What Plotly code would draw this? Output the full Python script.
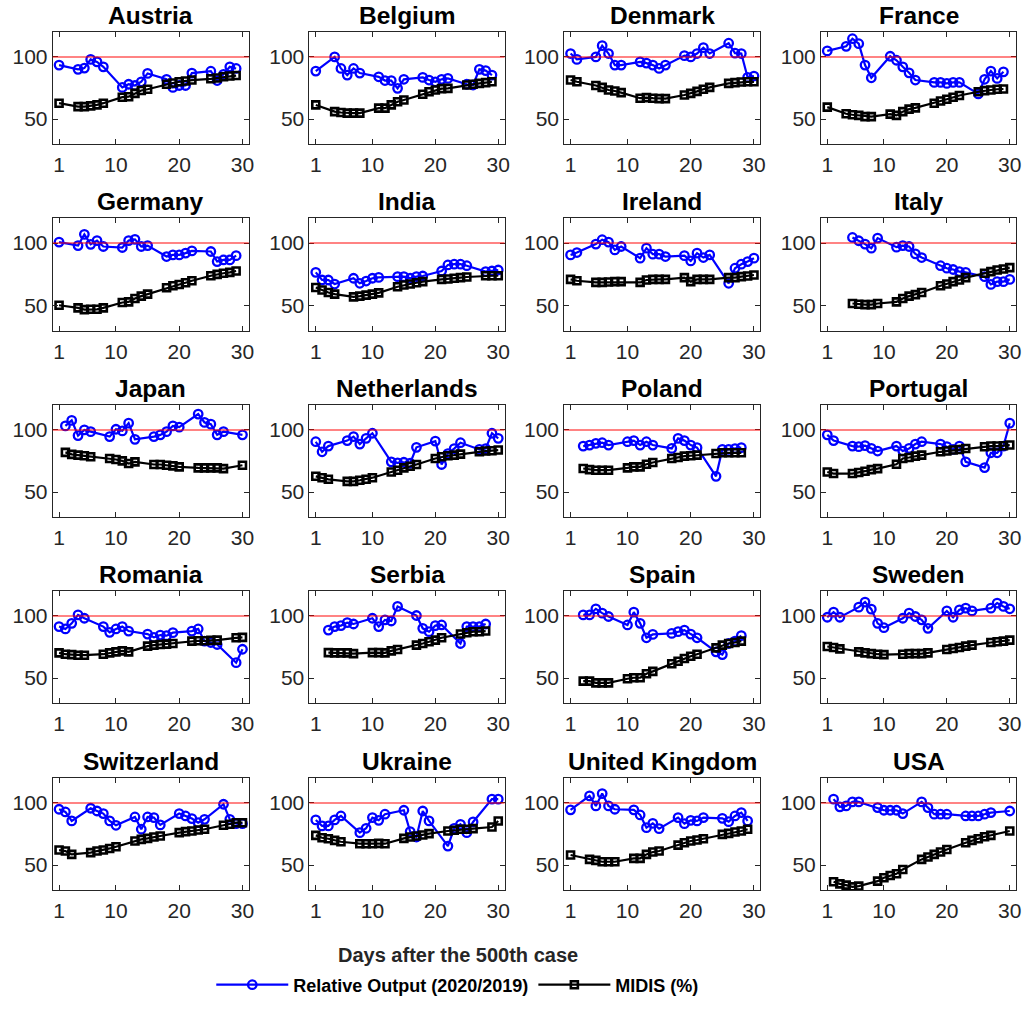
import plotly.graph_objects as go

# ---------------- data ----------------
COUNTRIES = ["Austria", "Belgium", "Denmark", "France",
             "Germany", "India", "Ireland", "Italy",
             "Japan", "Netherlands", "Poland", "Portugal",
             "Romania", "Serbia", "Spain", "Sweden",
             "Switzerland", "Ukraine", "United Kingdom", "USA"]

X_TICKS = [1, 10, 20, 30]
Y_TICKS = [50, 100]
X_RANGE = [0, 31]
Y_RANGE = [30, 120]
REF_LEVEL = 100

SERIES_OUTPUT = "Relative Output (2020/2019)"
SERIES_MIDIS = "MIDIS (%)"
X_LABEL = "Days after the 500th case"

AUSTRIA_DAYS = [1, 4, 5, 6, 7, 8, 11, 12, 13, 14, 15, 18, 19, 20, 21, 22, 25, 26, 27, 28, 29]
AUSTRIA_OUTPUT = [93.4, 90, 91, 98, 96, 92, 75.5, 78, 77, 80, 86.7, 82, 75.5, 77, 77, 87, 88.5, 81, 86, 92, 90.7]
AUSTRIA_MIDIS = [62.8, 60, 60, 60.6, 61.4, 62.8, 67.6, 68, 70.7, 73, 74, 78, 79, 80, 80.6, 81.4, 82.4, 83, 84, 84.6, 85]

BELGIUM_DAYS = [1, 4, 5, 6, 7, 8, 11, 12, 13, 14, 15, 18, 19, 20, 21, 22, 25, 26, 27, 28, 29]
BELGIUM_OUTPUT = [88.6, 100, 90.7, 85.4, 90.7, 87, 84, 81, 81, 74.7, 82, 83.5, 81.4, 80, 82, 82.7, 78, 77.4, 90, 89, 85.4]
BELGIUM_MIDIS = [61.4, 56, 55.3, 54.8, 54.8, 54.8, 58.8, 58.8, 61.4, 64, 65.4, 70, 72, 73.4, 74.5, 74.7, 77.4, 78, 78.7, 79.3, 80]

DENMARK_DAYS = [1, 2, 5, 6, 7, 8, 9, 12, 13, 14, 15, 16, 19, 20, 21, 22, 23, 26, 27, 28, 29, 30]
DENMARK_OUTPUT = [102.7, 98, 100, 109, 102.7, 93.4, 93.4, 96, 95, 93.4, 90.7, 93.4, 101, 100, 102.7, 107.4, 102.7, 111, 103, 102.7, 83.5, 84.6]
DENMARK_MIDIS = [81.4, 80, 77, 75.5, 73.4, 72.6, 71.3, 66.8, 67.3, 66.8, 66.5, 66.5, 69.4, 70.7, 72.3, 74, 75.5, 78.7, 79.3, 79.8, 80, 80]

FRANCE_DAYS = [1, 4, 5, 6, 7, 8, 11, 12, 13, 14, 15, 18, 19, 20, 21, 22, 25, 26, 27, 28, 29]
FRANCE_OUTPUT = [104.8, 108.5, 114.6, 110.6, 93.4, 83.2, 100.5, 97.3, 92, 87.2, 81.4, 79.5, 79.5, 78.7, 79.5, 79.5, 70.2, 82, 88.6, 82.7, 88]
FRANCE_MIDIS = [59.6, 54.3, 53.5, 53, 52, 52, 54, 53, 56, 58, 59, 62.8, 64.6, 66, 67.6, 69, 72, 72.9, 73.4, 74, 74.2]

GERMANY_DAYS = [1, 4, 5, 6, 7, 8, 11, 12, 13, 14, 15, 18, 19, 20, 21, 22, 25, 26, 27, 28, 29]
GERMANY_OUTPUT = [100.8, 98, 107, 99, 102, 97.3, 96.5, 102, 103, 97.3, 98, 89.3, 90.6, 90.6, 92, 93.8, 93.3, 85.3, 86.6, 86.6, 90]
GERMANY_MIDIS = [50.5, 48.4, 47, 47.3, 47.3, 48.4, 52.7, 53.2, 55.9, 57.8, 59.4, 64.4, 66, 67, 68.4, 70, 74, 75.1, 76, 76.7, 77.8]

INDIA_DAYS = [1, 2, 3, 4, 7, 8, 9, 10, 11, 14, 15, 16, 17, 18, 21, 22, 23, 24, 25, 28, 29, 30]
INDIA_OUTPUT = [76.7, 70.6, 70.6, 67.4, 72, 68, 69.8, 72, 72.7, 73.3, 73.3, 72, 73.3, 73.8, 77.8, 82.6, 83.2, 83.2, 82, 77.3, 77.8, 78.6]
INDIA_MIDIS = [64.7, 62.6, 60.7, 59.4, 57.2, 57.8, 58.6, 59.4, 60.4, 65.2, 66.6, 67.4, 68.4, 69.3, 71.1, 71.4, 72, 72.5, 73, 74, 74, 74]

IRELAND_DAYS = [1, 2, 5, 6, 7, 8, 9, 12, 13, 14, 15, 16, 19, 20, 21, 22, 23, 26, 27, 28, 29, 30]
IRELAND_OUTPUT = [90.6, 92.5, 99.2, 102.7, 100.8, 94.6, 97.3, 88, 96, 91.2, 91.2, 89.3, 90, 85.8, 92, 88.5, 90.6, 68, 80, 83.2, 85.3, 88]
IRELAND_MIDIS = [71.1, 70, 68.7, 68.7, 69, 69.3, 69.3, 68.7, 70.6, 71.1, 71.1, 71.1, 72.5, 69.3, 71.1, 71.1, 71.1, 72.5, 72.5, 73.3, 73.8, 74.6]

ITALY_DAYS = [5, 6, 7, 8, 9, 12, 13, 14, 15, 16, 19, 20, 21, 22, 23, 26, 27, 28, 29, 30]
ITALY_OUTPUT = [104.5, 101.9, 99.2, 96, 104, 96.8, 98, 97.3, 91.4, 88.5, 82, 80, 79, 77.3, 76.7, 73.3, 67.1, 69.3, 69.3, 71.1]
ITALY_MIDIS = [51.9, 51.3, 51, 51, 51.9, 53.2, 55.9, 57.8, 59, 60.7, 66, 67.4, 69.3, 70.6, 72.5, 76, 77.3, 78.6, 79.4, 80.5]

JAPAN_DAYS = [2, 3, 4, 5, 6, 9, 10, 11, 12, 13, 16, 17, 18, 19, 20, 23, 24, 25, 26, 27, 30]
JAPAN_OUTPUT = [103.2, 107.6, 95.4, 100, 98.6, 94.6, 100.5, 99.2, 105.4, 92.4, 94.6, 96, 98.6, 103.2, 102.2, 112.7, 106, 104.6, 96, 98.6, 96]
JAPAN_MIDIS = [81.9, 80.3, 79.7, 79.2, 78.4, 77, 76.2, 75.1, 73, 74.3, 72.2, 72.2, 71.6, 71.1, 70.3, 69.5, 69.5, 69.5, 69.5, 68.9, 71.6]

NETHERLANDS_DAYS = [1, 2, 3, 6, 7, 8, 9, 10, 13, 14, 15, 16, 17, 20, 21, 22, 23, 24, 27, 28, 29, 30]
NETHERLANDS_OUTPUT = [90.5, 82.4, 87, 91.4, 94.6, 88.6, 93.2, 97.3, 74.3, 73.5, 74, 73.2, 86, 91, 72.2, 81, 85, 89.7, 84.3, 85, 97.3, 93.2]
NETHERLANDS_MIDIS = [62.7, 61.6, 60.3, 58.6, 58.6, 59.5, 60.3, 61.6, 66.2, 67.6, 69.5, 70.8, 72.2, 77, 78.4, 79.2, 79.7, 80.5, 82.4, 83, 83.2, 83.8]

POLAND_DAYS = [3, 4, 5, 6, 7, 10, 11, 12, 13, 14, 17, 18, 19, 20, 21, 24, 25, 26, 27, 28]
POLAND_OUTPUT = [87, 87.8, 89.2, 89.7, 87.8, 90.5, 91.4, 87.8, 90.5, 87.8, 85.1, 93.2, 91.4, 87.8, 85.7, 62.7, 84.3, 84.3, 85, 85.8]
POLAND_MIDIS = [69, 68.1, 67.6, 67.6, 67.6, 69.5, 70.3, 70.3, 72.4, 73.8, 77, 77.8, 78.9, 79.2, 79.7, 81, 81.6, 81.6, 81.6, 81.6]

PORTUGAL_DAYS = [1, 2, 5, 6, 7, 8, 9, 12, 13, 14, 15, 16, 19, 20, 21, 22, 23, 26, 27, 28, 29, 30]
PORTUGAL_OUTPUT = [96, 91.4, 87, 86.5, 87.3, 85.1, 83, 87, 83, 85.1, 88.6, 90.5, 88.6, 86.5, 84.3, 87, 74.3, 69.7, 81.6, 81.6, 87, 105.4]
PORTUGAL_MIDIS = [66.2, 64.9, 64.9, 65.7, 66.8, 68.1, 68.9, 72.4, 77, 77.8, 78.9, 79.7, 82.4, 83, 83.8, 84.3, 85.1, 86.5, 87, 87, 87.3, 87.8]

ROMANIA_DAYS = [1, 2, 3, 4, 5, 8, 9, 10, 11, 12, 15, 16, 17, 18, 19, 22, 23, 24, 25, 26, 29, 30]
ROMANIA_OUTPUT = [91.4, 89.5, 94, 100.8, 98.1, 91.4, 86.8, 89.5, 91.4, 87.8, 85.4, 82.7, 84.6, 84.1, 86.5, 87.8, 89.5, 79.7, 78.6, 77, 62.4, 73.2]
ROMANIA_MIDIS = [70.3, 69.2, 68.9, 68.4, 68.4, 69.2, 70.3, 71.1, 71.9, 71.1, 75.7, 76.5, 77, 77.3, 77.8, 79.7, 80, 80, 80.3, 80.5, 82.4, 82.7]

SERBIA_DAYS = [3, 4, 5, 6, 7, 10, 11, 12, 13, 14, 17, 18, 19, 20, 21, 24, 25, 26, 27, 28]
SERBIA_OUTPUT = [88.6, 91.4, 92.2, 94.6, 93.5, 98.1, 91.4, 96.8, 95.9, 107.6, 100.3, 90, 87.3, 92.2, 92.7, 77.8, 91.4, 91.4, 91.4, 93.5]
SERBIA_MIDIS = [70.5, 70.3, 70.3, 70.3, 69.7, 70.5, 70.5, 70.3, 71.9, 73, 76.5, 77.8, 79.2, 80.5, 82.4, 85.4, 86.5, 87.3, 87.3, 87.8]

SPAIN_DAYS = [3, 4, 5, 6, 7, 10, 11, 12, 13, 14, 17, 18, 19, 20, 21, 24, 25, 26, 27, 28]
SPAIN_OUTPUT = [100.8, 100.8, 105.7, 102.2, 99.5, 92.7, 103, 94, 82.4, 85.1, 85.9, 87.3, 88.6, 85.4, 82.4, 71.1, 68.9, 77.8, 79.7, 84.1]
SPAIN_MIDIS = [47.6, 47.6, 46.2, 46.2, 46.2, 49.5, 50.3, 50.3, 53.5, 55.4, 61.6, 63.5, 65.7, 67.6, 69.2, 74.3, 76.5, 77.8, 78.6, 79.7]

SWEDEN_DAYS = [1, 2, 3, 6, 7, 8, 9, 10, 13, 14, 15, 16, 17, 20, 21, 22, 23, 24, 27, 28, 29, 30]
SWEDEN_OUTPUT = [98.9, 103, 98.9, 107, 111.1, 105.4, 94, 90.5, 98.1, 102.2, 99.5, 96.8, 90, 104, 98.9, 104.9, 106.2, 104, 106.2, 110.3, 107.6, 105.7]
SWEDEN_MIDIS = [75.4, 74.6, 73.5, 71.1, 70.3, 69.7, 69.2, 68.9, 69.2, 69.7, 69.7, 69.7, 70.3, 73, 73.8, 74.6, 75.7, 76.5, 78.6, 79.2, 79.7, 80.5]

SWITZERLAND_DAYS = [1, 2, 3, 6, 7, 8, 9, 10, 13, 14, 15, 16, 17, 20, 21, 22, 23, 24, 27, 28, 29, 30]
SWITZERLAND_OUTPUT = [94.9, 92.7, 85.5, 95.7, 93.5, 91.4, 85.5, 82, 88.7, 78.8, 88.7, 88.2, 82.3, 91.4, 89.5, 87.4, 84.1, 86.8, 98.9, 86.8, 83.3, 83.3]
SWITZERLAND_MIDIS = [62.1, 61.3, 58.6, 60, 61.3, 62.1, 63.4, 64.8, 69.4, 70.7, 71.5, 72.6, 73.4, 76.1, 76.9, 77.4, 78.2, 78.8, 82, 82.8, 84.1, 84.1]

UKRAINE_DAYS = [1, 2, 3, 4, 5, 8, 9, 10, 11, 12, 15, 16, 17, 18, 19, 22, 23, 24, 25, 26, 29, 30]
UKRAINE_OUTPUT = [86.3, 81.5, 81.5, 86.3, 89.5, 76.1, 79.6, 88.2, 86, 90.9, 94.1, 76.9, 72.6, 93.5, 85.5, 65.3, 79.6, 82.8, 76.1, 84.7, 103, 103]
UKRAINE_MIDIS = [73.9, 72, 71.2, 69.9, 68.8, 67.2, 67.2, 67.2, 67.5, 67.2, 71.5, 72.6, 73.4, 74.2, 75.3, 77.4, 78, 78.8, 78.8, 79.3, 80.6, 85.5]

UK_DAYS = [1, 4, 5, 6, 7, 8, 11, 12, 13, 14, 15, 18, 19, 20, 21, 22, 25, 26, 27, 28, 29]
UK_OUTPUT = [94.4, 105.6, 97.6, 107.5, 97.6, 94.9, 94.4, 90.3, 80.1, 83.6, 79.3, 88.2, 83.3, 86, 85.5, 88.2, 87.6, 84.9, 89.5, 92.2, 85.5]
UK_MIDIS = [58.1, 54.6, 53.8, 52.7, 52.7, 52.7, 55.4, 55.4, 58.6, 60.5, 61.3, 66.1, 68, 69.4, 70.2, 71.2, 74.7, 75.5, 76.6, 77.4, 78.8]

USA_DAYS = [2, 3, 4, 5, 6, 9, 10, 11, 12, 13, 16, 17, 18, 19, 20, 23, 24, 25, 26, 27, 30]
USA_OUTPUT = [103, 96.8, 97.6, 100.8, 100.8, 96.2, 94.1, 94.1, 94.1, 91.4, 100.8, 96.2, 90.9, 90.9, 90.9, 89.5, 89.5, 89.5, 90.9, 92.2, 93.5]
USA_MIDIS = [36.6, 34.9, 33.9, 32.5, 33.1, 37.1, 39.8, 41.7, 43, 46.5, 54.6, 56.5, 58.6, 60.5, 62.6, 68, 69.9, 71.2, 72.8, 73.9, 77.4]

PANELS = [
    (AUSTRIA_DAYS, AUSTRIA_OUTPUT, AUSTRIA_MIDIS),
    (BELGIUM_DAYS, BELGIUM_OUTPUT, BELGIUM_MIDIS),
    (DENMARK_DAYS, DENMARK_OUTPUT, DENMARK_MIDIS),
    (FRANCE_DAYS, FRANCE_OUTPUT, FRANCE_MIDIS),
    (GERMANY_DAYS, GERMANY_OUTPUT, GERMANY_MIDIS),
    (INDIA_DAYS, INDIA_OUTPUT, INDIA_MIDIS),
    (IRELAND_DAYS, IRELAND_OUTPUT, IRELAND_MIDIS),
    (ITALY_DAYS, ITALY_OUTPUT, ITALY_MIDIS),
    (JAPAN_DAYS, JAPAN_OUTPUT, JAPAN_MIDIS),
    (NETHERLANDS_DAYS, NETHERLANDS_OUTPUT, NETHERLANDS_MIDIS),
    (POLAND_DAYS, POLAND_OUTPUT, POLAND_MIDIS),
    (PORTUGAL_DAYS, PORTUGAL_OUTPUT, PORTUGAL_MIDIS),
    (ROMANIA_DAYS, ROMANIA_OUTPUT, ROMANIA_MIDIS),
    (SERBIA_DAYS, SERBIA_OUTPUT, SERBIA_MIDIS),
    (SPAIN_DAYS, SPAIN_OUTPUT, SPAIN_MIDIS),
    (SWEDEN_DAYS, SWEDEN_OUTPUT, SWEDEN_MIDIS),
    (SWITZERLAND_DAYS, SWITZERLAND_OUTPUT, SWITZERLAND_MIDIS),
    (UKRAINE_DAYS, UKRAINE_OUTPUT, UKRAINE_MIDIS),
    (UK_DAYS, UK_OUTPUT, UK_MIDIS),
    (USA_DAYS, USA_OUTPUT, USA_MIDIS),
]

# ---------------- layout geometry (page pixels) ----------------
W, H = 1029, 1009
COL_L = [53, 311, 567, 825]
COL_R = [250, 507, 764, 1021]
ROW_T = [32, 218, 405, 591, 778]
ROW_B = [144, 331, 517, 703, 890]


def px(x):
    return x / W


def py(y):
    return 1 - y / H


FONT = "Liberation Sans, Arial, Helvetica, sans-serif"
AX_COLOR = "#262626"
BLUE = "#0000ff"
BLACK = "#000000"
RED = "rgba(255,0,0,0.65)"

fig = go.Figure()
layout = dict(
    width=W, height=H,
    margin=dict(l=0, r=0, t=0, b=0),
    paper_bgcolor="white", plot_bgcolor="white",
    font=dict(family=FONT, color=AX_COLOR),
)
annotations = []
shapes = []

for i, (name, (days, out, midis)) in enumerate(zip(COUNTRIES, PANELS)):
    r, c = divmod(i, 4)
    k = i + 1
    xs = "" if k == 1 else str(k)
    xa, ya = "x" + xs, "y" + xs

    fig.add_trace(go.Scatter(
        x=days, y=out, xaxis=xa, yaxis=ya, mode="lines+markers",
        name=SERIES_OUTPUT, legendgroup="out", showlegend=(k == 1),
        line=dict(color=BLUE, width=2.2),
        marker=dict(symbol="circle-open", size=8.5, color=BLUE, line=dict(width=2.3, color=BLUE)),
    ))
    fig.add_trace(go.Scatter(
        x=days, y=midis, xaxis=xa, yaxis=ya, mode="lines+markers",
        name=SERIES_MIDIS, legendgroup="midis", showlegend=(k == 1),
        line=dict(color=BLACK, width=2.2),
        marker=dict(symbol="square-open", size=7, color=BLACK, line=dict(width=2.6, color=BLACK)),
    ))

    axis_common = dict(
        showline=True, linecolor=AX_COLOR, linewidth=1, mirror="allticks",
        ticks="inside", ticklen=5, tickwidth=1, tickcolor=AX_COLOR,
        showgrid=False, zeroline=False,
        tickfont=dict(family=FONT, size=21, color=AX_COLOR),
    )
    layout["xaxis" + xs] = dict(
        axis_common, domain=[px(COL_L[c]), px(COL_R[c])], anchor=ya,
        range=X_RANGE, tickvals=X_TICKS, ticklabelstandoff=2,
    )
    layout["yaxis" + xs] = dict(
        axis_common, domain=[py(ROW_B[r]), py(ROW_T[r])], anchor=xa,
        range=Y_RANGE, tickvals=Y_TICKS, ticklabelstandoff=0,
    )

    shapes.append(dict(type="line", xref=xa + " domain", yref=ya,
                       x0=0, x1=1, y0=REF_LEVEL, y1=REF_LEVEL,
                       line=dict(color=RED, width=1.5), layer="above"))

    annotations.append(dict(
        text="<b>" + name + "</b>", xref="paper", yref="paper",
        x=px((COL_L[c] + COL_R[c]) / 2), y=py(ROW_T[r]),
        xanchor="center", yanchor="bottom", yshift=1, showarrow=False,
        font=dict(family=FONT, size=24.5, color="black"),
    ))

annotations.append(dict(
    text="<b>" + X_LABEL + "</b>", xref="paper", yref="paper",
    x=px(460), y=py(955), xanchor="center", yanchor="middle",
    showarrow=False, font=dict(family=FONT, size=20, color=AX_COLOR),
))

layout["annotations"] = annotations
layout["shapes"] = shapes
layout["legend"] = dict(
    orientation="h", x=px(460), xanchor="center", y=py(985), yanchor="middle",
    font=dict(family=FONT, size=18, color="black", weight="bold"),
    bgcolor="rgba(0,0,0,0)", itemwidth=72, tracegroupgap=0,
)
fig.update_layout(**layout)
# remove the default 8px page margin so the figure fills the window exactly
fig.write_html("out.html", config={"displayModeBar": False},
               post_script="document.body.style.margin='0px';")
